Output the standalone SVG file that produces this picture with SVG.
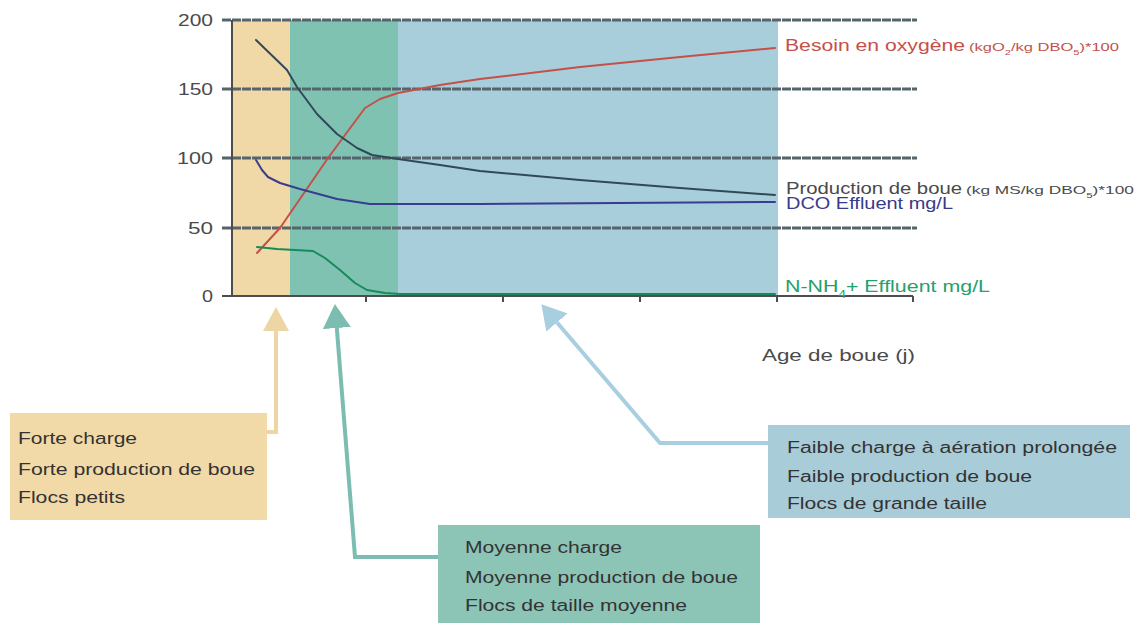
<svg xmlns="http://www.w3.org/2000/svg" width="1138" height="623" viewBox="0 0 1138 623">
  <style>
    .t { font-family: "Liberation Sans", Arial, sans-serif; font-size: 16px; fill: #333333; }
    .ax { font-family: "Liberation Sans", Arial, sans-serif; font-size: 16px; fill: #4a4a4a; }
    .sm { font-size: 10.5px; }
    .grid { stroke: #56656c; stroke-width: 3; stroke-dasharray: 9 1; fill: none; }
    .curve { fill: none; stroke-width: 2; stroke-linejoin: round; stroke-linecap: round; }
    .conn { fill: none; stroke-width: 4; stroke-linejoin: miter; }
  </style>
  <defs>
    <marker id="head-tan" viewBox="0 0 24 26" refX="0" refY="13" markerWidth="24" markerHeight="26" markerUnits="userSpaceOnUse" orient="auto">
      <path d="M0,0 L24,13 L0,26 z" fill="#eed6a4"/>
    </marker>
    <marker id="head-teal" viewBox="0 0 24 28" refX="0" refY="14" markerWidth="24" markerHeight="28" markerUnits="userSpaceOnUse" orient="auto">
      <path d="M0,0 L24,14 L0,28 z" fill="#7bbdb0"/>
    </marker>
    <marker id="head-blue" viewBox="0 0 24 28" refX="0" refY="14" markerWidth="24" markerHeight="28" markerUnits="userSpaceOnUse" orient="auto">
      <path d="M0,0 L24,14 L0,28 z" fill="#a8cfe0"/>
    </marker>
  </defs>

  <rect width="1138" height="623" fill="#ffffff"/>

  <!-- chart: load zones, grid, curves, axes -->
  <g id="chart">
    <rect x="232" y="20" width="58" height="276" fill="#f1d9a7"/>
    <rect x="290" y="20" width="108" height="276" fill="#80c2b2"/>
    <rect x="398" y="20" width="380" height="276" fill="#a9cedb"/>

    <g id="grid">
      <line class="grid" x1="222" y1="20" x2="917" y2="20"/>
      <line class="grid" x1="222" y1="89" x2="917" y2="89"/>
      <line class="grid" x1="222" y1="158" x2="917" y2="158"/>
      <line class="grid" x1="222" y1="228" x2="917" y2="228"/>
    </g>

    <g id="curves">
      <polyline class="curve" stroke="#c4504a" points="257,253 280,228 328,158 365,108 380,99 398,93 440,85 480,79 580,67 680,57 775,48"/>
      <polyline class="curve" stroke="#2f4a56" points="256,40 287,70 297,87 317,114 337,134 357,148 372,155 398,159 440,165 480,171 580,180 680,188 775,195"/>
      <polyline class="curve" stroke="#3a3c8e" points="256,160 262,170 268,177 280,183 300,189 337,199 370,204 480,204 775,202"/>
      <polyline class="curve" stroke="#178a5a" stroke-width="2.5" points="257,247 277,249 313,251 325,258 340,270 355,283 367,290 385,293 400,294 775,294"/>
    </g>

    <g id="axes" stroke="#4d4d4d" stroke-width="2">
      <line x1="232" y1="20" x2="232" y2="297"/>
      <line x1="222" y1="296" x2="913" y2="296"/>
      <line x1="366" y1="296" x2="366" y2="302"/>
      <line x1="503" y1="296" x2="503" y2="302"/>
      <line x1="640" y1="296" x2="640" y2="302"/>
      <line x1="777" y1="296" x2="777" y2="302"/>
      <line x1="913" y1="296" x2="913" y2="302"/>
    </g>

    <g id="y-labels" text-anchor="end">
      <text class="ax" x="213" y="26" textLength="35" lengthAdjust="spacingAndGlyphs">200</text>
      <text class="ax" x="213" y="95" textLength="35" lengthAdjust="spacingAndGlyphs">150</text>
      <text class="ax" x="213" y="164" textLength="36" lengthAdjust="spacingAndGlyphs">100</text>
      <text class="ax" x="213" y="234" textLength="25" lengthAdjust="spacingAndGlyphs">50</text>
      <text class="ax" x="213" y="302" textLength="11" lengthAdjust="spacingAndGlyphs">0</text>
    </g>

    <text class="ax" x="762" y="361" textLength="153" lengthAdjust="spacingAndGlyphs">Age de boue (j)</text>

    <g id="series-labels">
      <text class="t" x="785" y="51" style="fill:#c4504a"><tspan textLength="180" lengthAdjust="spacingAndGlyphs">Besoin en oxygène</tspan><tspan class="sm" dx="4" textLength="150" lengthAdjust="spacingAndGlyphs">(kgO<tspan baseline-shift="sub" font-size="7">2</tspan>/kg DBO<tspan baseline-shift="sub" font-size="7">5</tspan>)*100</tspan></text>
      <text class="t" x="786" y="194" style="fill:#4a4a4a"><tspan textLength="176" lengthAdjust="spacingAndGlyphs">Production de boue</tspan><tspan class="sm" dx="4" textLength="168" lengthAdjust="spacingAndGlyphs">(kg MS/kg DBO<tspan baseline-shift="sub" font-size="7">5</tspan>)*100</tspan></text>
      <text class="t" x="786" y="209" style="fill:#3a3a8a" textLength="167" lengthAdjust="spacingAndGlyphs">DCO Effluent mg/L</text>
      <text class="t" x="785" y="292" style="fill:#26a06c" textLength="205" lengthAdjust="spacingAndGlyphs">N-NH<tspan baseline-shift="sub" font-size="10">4</tspan>+ Effluent mg/L</text>
    </g>
  </g>

  <!-- connectors from the description boxes to their zones -->
  <g id="connectors">
    <path class="conn" stroke="#eed6a4" d="M267,432 H276 V331" marker-end="url(#head-tan)"/>
    <path class="conn" stroke="#7bbdb0" d="M438,557 H355 L336.8,328" marker-end="url(#head-teal)"/>
    <path class="conn" stroke="#a8cfe0" d="M768,443 H660 L557,322.5" marker-end="url(#head-blue)"/>
  </g>

  <g id="box-forte">
    <rect x="10" y="413" width="257" height="107" fill="#f2daa8"/>
    <text class="t" x="18" y="444" textLength="119" lengthAdjust="spacingAndGlyphs">Forte charge</text>
    <text class="t" x="18" y="475" textLength="237" lengthAdjust="spacingAndGlyphs">Forte production de boue</text>
    <text class="t" x="18" y="503" textLength="107" lengthAdjust="spacingAndGlyphs">Flocs petits</text>
  </g>

  <g id="box-moyenne">
    <rect x="438" y="525" width="322" height="98" fill="#8cc4b6"/>
    <text class="t" x="465" y="553" textLength="157" lengthAdjust="spacingAndGlyphs">Moyenne charge</text>
    <text class="t" x="465" y="583" textLength="273" lengthAdjust="spacingAndGlyphs">Moyenne production de boue</text>
    <text class="t" x="465" y="611" textLength="222" lengthAdjust="spacingAndGlyphs">Flocs de taille moyenne</text>
  </g>

  <g id="box-faible">
    <rect x="768" y="425" width="362" height="93" fill="#a9ccd9"/>
    <text class="t" x="787" y="453" textLength="330" lengthAdjust="spacingAndGlyphs">Faible charge à aération prolongée</text>
    <text class="t" x="787" y="482" textLength="245" lengthAdjust="spacingAndGlyphs">Faible production de boue</text>
    <text class="t" x="787" y="509" textLength="200" lengthAdjust="spacingAndGlyphs">Flocs de grande taille</text>
  </g>
</svg>
